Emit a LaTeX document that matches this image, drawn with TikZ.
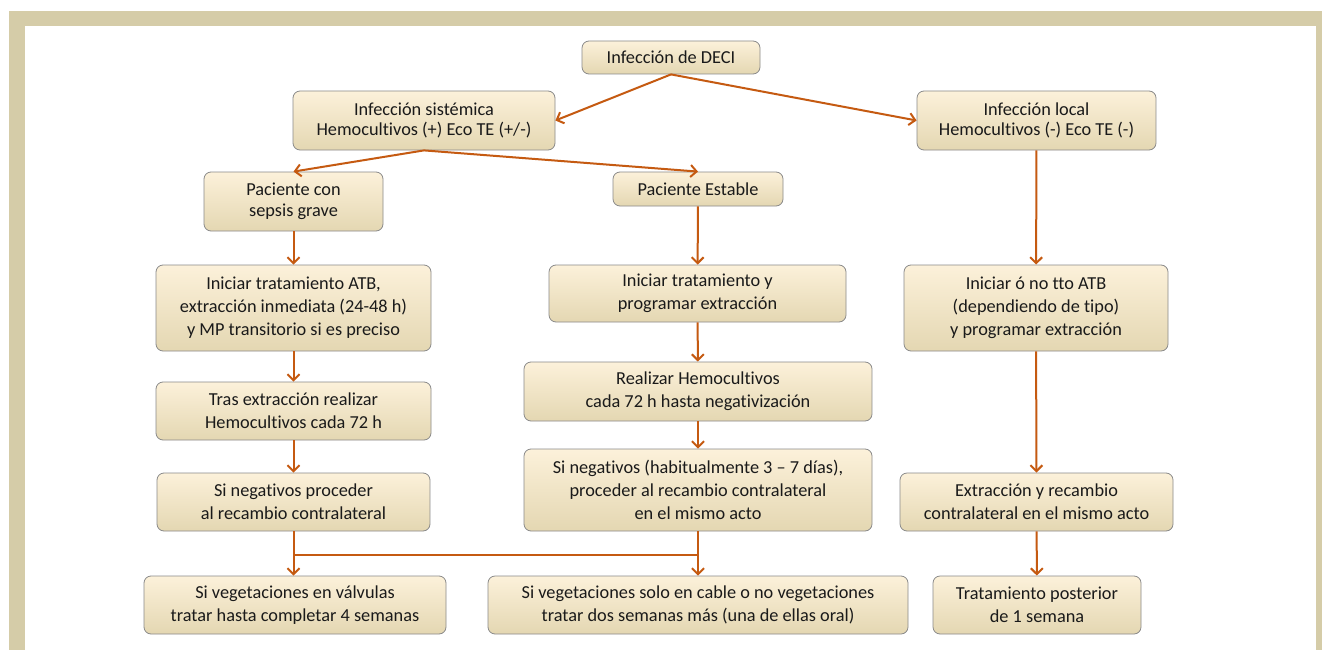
\documentclass[tikz,border=0pt]{standalone}
\usepackage{fontspec}
\setmainfont[Ligatures=NoCommon]{Carlito}
\usetikzlibrary{arrows.meta}
\definecolor{frametan}{HTML}{D5CCA8}
\definecolor{boxtop}{HTML}{FCF1DA}
\definecolor{boxbot}{HTML}{E4D7B2}
\definecolor{boxline}{HTML}{8A8A8A}
\definecolor{flow}{HTML}{C55A11}
\definecolor{ink}{HTML}{1A1A1A}
\tikzset{
  stepbox/.style={rounded corners=7pt, draw=boxline, line width=0.8pt,
    top color=boxtop, bottom color=boxbot, align=center, inner sep=0pt,
    text=ink, font=\fontsize{18.3}{23}\selectfont},
  tightbox/.style={stepbox, font=\fontsize{18.3}{20.5}\selectfont},
  flowline/.style={draw=flow, line width=2pt},
  flowarrow/.style={flowline, -{Straight Barb[length=6pt,width=12pt,line width=2pt]}}
}
\begin{document}
\begin{tikzpicture}[x=1pt,y=-1pt]
\useasboundingbox (0,0) rectangle (1322,650);
% page frame
\fill[white] (0,0) rectangle (1322,650);
\fill[frametan] (9,11) rectangle (1322,650);
\fill[white] (25,26) rectangle (1316,650);

% boxes
\node[stepbox, minimum width=178pt, minimum height=33pt] (deci) at (671,57.5) {Infección de DECI};
\node[tightbox, minimum width=262pt, minimum height=59pt] (sist) at (424,120.5) {Infección sistémica\\Hemocultivos (+) Eco TE (+/-)};
\node[tightbox, minimum width=239pt, minimum height=59pt] (local) at (1036.5,120.5) {Infección local\\Hemocultivos (-) Eco TE (-)};
\node[tightbox, minimum width=179pt, minimum height=59pt] (sepsis) at (293.5,201.5) {Paciente con\\sepsis grave};
\node[stepbox, minimum width=170pt, minimum height=34pt] (estable) at (698,189) {Paciente Estable};
\node[stepbox, minimum width=275pt, minimum height=86pt] (atb) at (293.5,308) {Iniciar tratamiento ATB,\\extracción inmediata (24-48 h)\\y MP transitorio si es preciso};
\node[stepbox, minimum width=297pt, minimum height=57pt] (prog) at (697.5,293.5) {Iniciar tratamiento y\\programar extracción};
\node[stepbox, minimum width=264pt, minimum height=86pt] (tto) at (1036,308) {Iniciar ó no tto ATB\\(dependiendo de tipo)\\y programar extracción};
\node[stepbox, minimum width=275pt, minimum height=58pt] (tras) at (293.5,411) {Tras extracción realizar\\Hemocultivos cada 72 h};
\node[stepbox, minimum width=348pt, minimum height=59pt] (realiz) at (698,391.5) {Realizar Hemocultivos\\cada 72 h hasta negativización};
\node[stepbox, minimum width=273pt, minimum height=58pt] (neg1) at (293.5,502) {Si negativos proceder\\al recambio contralateral};
\node[stepbox, minimum width=348pt, minimum height=82pt] (neg2) at (698,490) {Si negativos (habitualmente 3 – 7 días),\\proceder al recambio contralateral\\en el mismo acto};
\node[stepbox, minimum width=273pt, minimum height=58pt] (extr) at (1036.5,502) {Extracción y recambio\\contralateral en el mismo acto};
\node[stepbox, minimum width=302pt, minimum height=58pt] (veg1) at (295,605) {Si vegetaciones en válvulas\\tratar hasta completar 4 semanas};
\node[stepbox, minimum width=420pt, minimum height=58pt] (veg2) at (698,605) {Si vegetaciones solo en cable o no vegetaciones\\tratar dos semanas más (una de ellas oral)};
\node[stepbox, minimum width=208pt, minimum height=58pt] (post) at (1037,605) {Tratamiento posterior\\de 1 semana};

% connectors
\draw[flowarrow] (deci.south) -- (sist.east);
\draw[flowarrow] (deci.south) -- (local.west);
\draw[flowarrow] (sist.south) -- (sepsis.north);
\draw[flowarrow] (sist.south) -- (estable.north);
\draw[flowarrow] (sepsis) -- (atb);
\draw[flowarrow] (atb) -- (tras);
\draw[flowarrow] (tras) -- (neg1);
\draw[flowarrow] (estable) -- (prog);
\draw[flowarrow] (prog) -- (realiz);
\draw[flowarrow] (realiz) -- (neg2);
\draw[flowarrow] (local) -- (tto);
\draw[flowarrow] (tto) -- (extr);
\draw[flowarrow] (extr) -- (post);
\coordinate (j1) at (293.5,555);
\coordinate (j2) at (698,555);
\draw[flowline] (neg1.south) -- (j1) -- (j2);
\draw[flowline] (neg2.south) -- (j2);
\draw[flowarrow] (j1) -- (j1 |- veg1.north);
\draw[flowarrow] (j2) -- (veg2.north);
\end{tikzpicture}
\end{document}
